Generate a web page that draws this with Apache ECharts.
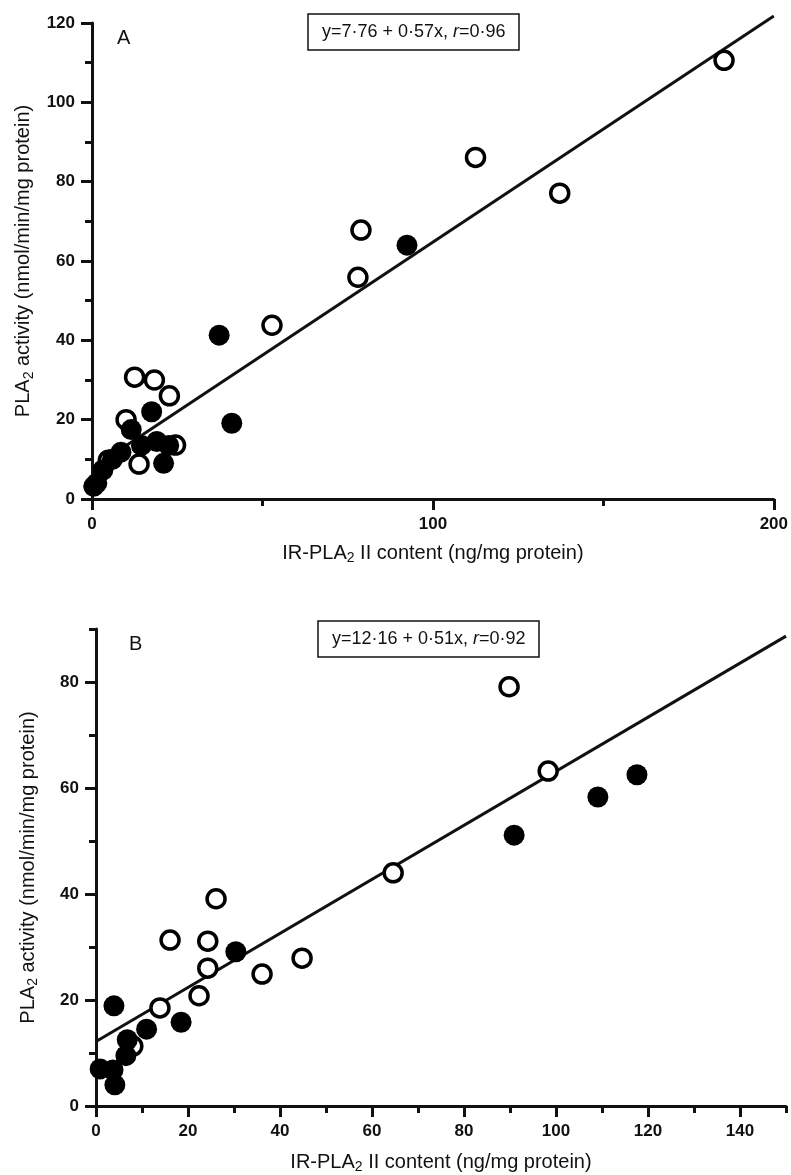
<!DOCTYPE html>
<html>
<head>
<meta charset="utf-8">
<script src="https://cdn.jsdelivr.net/npm/echarts@6/dist/echarts.min.js"></script>
<style>
html,body{margin:0;padding:0;background:#fff;}
#c{width:791px;height:1175px;}
</style>
</head>
<body>
<div id="c"></div>
<script>
// ---- Panel A data ----
const aOpen = [[185.4,110.6],[112.5,86.1],[137.2,77.1],[78.9,67.8],[78.0,55.9],[52.8,43.8],[12.5,30.7],[18.3,30.0],[22.7,26.0],[10.0,20.0],[13.8,8.8],[4.8,9.8],[24.5,13.6]];
const aFilled = [[92.4,64.0],[37.3,41.3],[41.0,19.1],[17.5,22.0],[11.5,17.5],[14.5,13.5],[19.0,14.5],[22.5,13.5],[21.0,9.0],[8.5,11.8],[6.0,10.0],[3.2,7.3],[1.4,4.0],[0.5,3.2]];
const aFit = {a: 7.76, b: 0.57, x0: 0, x1: 200};
const aXMajor = [0, 100, 200];
const aXMinor = [50, 150];
const aYMajor = [0, 20, 40, 60, 80, 100, 120];
const aYMinor = [10, 30, 50, 70, 90, 110];

// ---- Panel B data ----
const bOpen = [[89.8,79.1],[98.3,63.2],[64.6,44.0],[44.8,27.9],[36.1,24.9],[26.1,39.1],[24.3,31.1],[24.3,26.0],[16.1,31.3],[22.4,20.8],[13.9,18.5],[8.0,11.3]];
const bFilled = [[117.6,62.5],[109.1,58.3],[90.9,51.1],[30.4,29.1],[18.5,15.8],[3.9,18.9],[11.0,14.5],[6.8,12.5],[6.5,9.5],[3.7,6.8],[0.9,7.0],[4.1,4.0]];
const bFit = {a: 12.16, b: 0.51, x0: 0, x1: 150};
const bXMajor = [0, 20, 40, 60, 80, 100, 120, 140];
const bXMinor = [10, 30, 50, 70, 90, 110, 130, 150];
const bYMajor = [0, 20, 40, 60, 80];
const bYMinor = [10, 30, 50, 70, 90];

const eqA = ['y=7·76 + 0·57x, ', 'r', '=0·96'];
const eqB = ['y=12·16 + 0·51x, ', 'r', '=0·92'];

const xTitle = ['IR-PLA', '2', ' II content (ng/mg protein)'];
const yTitle = ['PLA', '2', ' activity (nmol/min/mg protein)'];

const FONT = '"Liberation Sans", Arial, sans-serif';
const INK = '#111';

function fitLine(f) { return [[f.x0, f.a + f.b * f.x0], [f.x1, f.a + f.b * f.x1]]; }

const nameRich = {
  n: {fontFamily: FONT, fontSize: 20, color: INK},
  s: {fontFamily: FONT, fontSize: 14, color: INK, padding: [10, 0, 0, 0]}
};
function richName(t) { return '{n|' + t[0] + '}{s|' + t[1] + '}{n|' + t[2] + '}'; }

function mainAxis(dim, gridIndex, min, max, major, nameGap) {
  return {
    type: 'value', gridIndex, min, max,
    position: dim === 'x' ? 'bottom' : 'left',
    name: richName(dim === 'x' ? xTitle : yTitle),
    nameLocation: 'middle', nameGap,
    nameTextStyle: {rich: nameRich},
    axisLine: {show: true, onZero: false, lineStyle: {color: INK, width: 3}},
    axisTick: {show: true, customValues: major, length: 11, lineStyle: {color: INK, width: 3}},
    axisLabel: {customValues: major, fontFamily: FONT, fontSize: 17, fontWeight: 'bold', color: INK, margin: 17},
    splitLine: {show: false}
  };
}
function minorAxis(dim, gridIndex, min, max, minor) {
  return {
    type: 'value', gridIndex, min, max,
    position: dim === 'x' ? 'bottom' : 'left',
    axisLine: {show: false, onZero: false},
    axisTick: {show: true, customValues: minor, length: 7, lineStyle: {color: INK, width: 3}},
    axisLabel: {show: false},
    splitLine: {show: false}
  };
}

function scatter(data, filled, xi, yi) {
  return {
    type: 'scatter', xAxisIndex: xi, yAxisIndex: yi, data,
    symbol: 'circle', symbolSize: filled ? 21 : 18,
    itemStyle: filled ? {color: '#000', borderColor: '#000', borderWidth: 0, opacity: 1}
                      : {color: '#fff', borderColor: '#000', borderWidth: 3.5, opacity: 1},
    z: filled ? 4 : 3,
    emphasis: {disabled: true}
  };
}
function line(f, xi, yi) {
  return {
    type: 'line', xAxisIndex: xi, yAxisIndex: yi, data: fitLine(f),
    symbol: 'none', clip: false,
    lineStyle: {color: INK, width: 3}, z: 2, silent: true
  };
}

const eqRich = {
  a: {fontFamily: FONT, fontSize: 18, fontWeight: 'normal', color: INK},
  i: {fontFamily: FONT, fontSize: 18, fontWeight: 'normal', color: INK, fontStyle: 'italic'}
};
function eqTitle(eq, left, top) {
  return {
    text: '{a|' + eq[0] + '}{i|' + eq[1] + '}{a|' + eq[2] + '}',
    left, top, padding: [9, 14, 9, 14],
    borderColor: INK, borderWidth: 1.5,
    textStyle: {fontWeight: 'normal', rich: eqRich}
  };
}

const chart = echarts.init(document.getElementById('c'), null, {renderer: 'canvas'});
chart.setOption({
  backgroundColor: '#fff',
  animation: false,
  title: [
    eqTitle(eqA, 308, 14),
    eqTitle(eqB, 318, 621),
    {text: 'A', left: 112, top: 23, textStyle: {fontFamily: FONT, fontSize: 20, fontWeight: 'normal', color: INK}},
    {text: 'B', left: 124, top: 629, textStyle: {fontFamily: FONT, fontSize: 20, fontWeight: 'normal', color: INK}}
  ],
  grid: [
    {left: 92, top: 23, width: 697, height: 476},
    {left: 96, top: 629, width: 690, height: 477}
  ],
  xAxis: [
    mainAxis('x', 0, 0, 200, aXMajor, 42),
    minorAxis('x', 0, 0, 200, aXMinor),
    mainAxis('x', 1, 0, 150, bXMajor, 44),
    minorAxis('x', 1, 0, 150, bXMinor)
  ],
  yAxis: [
    mainAxis('y', 0, 0, 120, aYMajor, 56),
    minorAxis('y', 0, 0, 120, aYMinor),
    mainAxis('y', 1, 0, 90, bYMajor, 56),
    minorAxis('y', 1, 0, 90, bYMinor)
  ],
  series: [
    line(aFit, 0, 0),
    scatter(aOpen, false, 0, 0),
    scatter(aFilled, true, 0, 0),
    line(bFit, 2, 2),
    scatter(bOpen, false, 2, 2),
    scatter(bFilled, true, 2, 2)
  ]
});
</script>
</body>
</html>
